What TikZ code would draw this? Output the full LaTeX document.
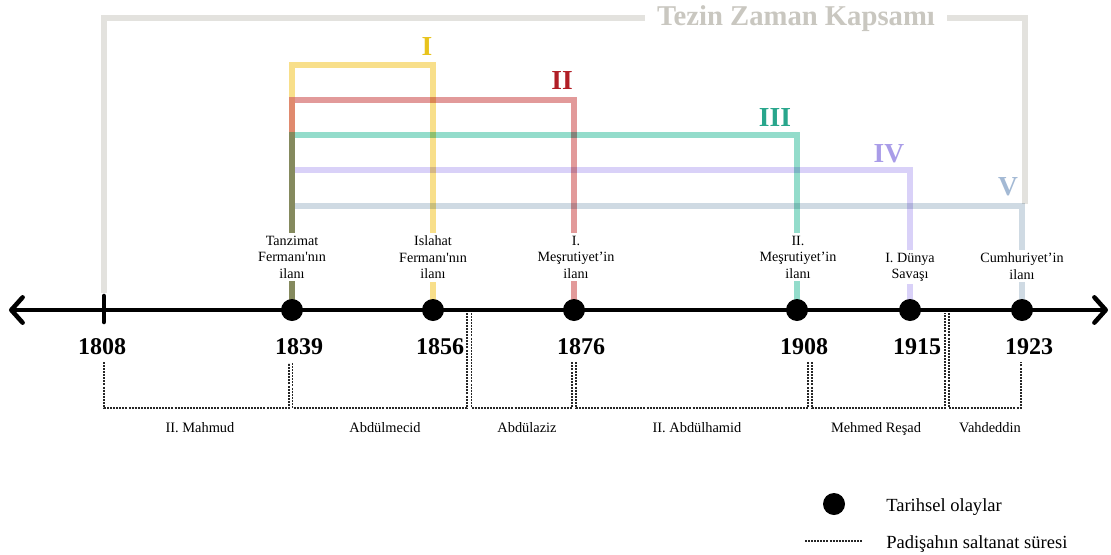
\documentclass[tikz,border=0pt]{standalone}
\usepackage{fontspec}
\setmainfont{Liberation Serif}
\usetikzlibrary{arrows.meta}
\definecolor{framegray}{HTML}{E3E2DE}
\definecolor{titlegray}{HTML}{C9C7C0}
\definecolor{yellowbar}{HTML}{F8DF8A}
\definecolor{redbar}{HTML}{E29A9A}
\definecolor{tealbar}{HTML}{93DCCB}
\definecolor{lavbar}{HTML}{D9D1F8}
\definecolor{bluebar}{HTML}{CFDAE3}
\definecolor{olivebar}{HTML}{858A5E}
\definecolor{orangebar}{HTML}{E08A6E}
\definecolor{romyellow}{HTML}{E8C31C}
\definecolor{romred}{HTML}{B11E26}
\definecolor{romteal}{HTML}{28A68C}
\definecolor{romlav}{HTML}{A99CE8}
\definecolor{romblue}{HTML}{A3B9D4}
\begin{document}
\begin{tikzpicture}[x=0.75pt,y=-0.75pt,
  bar/.style={line width=4.1pt, line join=miter, line cap=butt},
  reign/.style={line width=0.95pt, dash pattern=on 1.5pt off 0.8pt, black!85},
  evt/.style={align=center, font=\fontsize{10.6}{12.4}\selectfont, fill=white, inner xsep=1pt, inner ysep=2pt, anchor=north},
  yr/.style={font=\fontsize{18}{20}\selectfont\bfseries, anchor=base, inner sep=0pt},
  sul/.style={font=\fontsize{10.8}{13}\selectfont, anchor=base, inner sep=0pt},
  roman/.style={font=\fontsize{20.6}{22}\selectfont\bfseries, anchor=base, inner sep=0pt},
  evdot/.style={circle, fill=black, minimum size=16.5pt, inner sep=0pt},
  legtext/.style={font=\fontsize{13.9}{16}\selectfont, anchor=base west, inner sep=0pt}
]
\useasboundingbox (0,0) rectangle (1111,554);

% event dots (positions)
\coordinate (t1808) at (104,310);
\coordinate (p1839) at (292,310);
\coordinate (p1856) at (433,310);
\coordinate (p1876) at (574,310);
\coordinate (p1908) at (797,310);
\coordinate (p1915) at (910,310);
\coordinate (p1923) at (1022,310);

% thesis time frame
\draw[bar, framegray] (104,293) -- (104,18) -- (1025,18) -- (1025,204);
\node[font=\fontsize{21.5}{24}\selectfont\bfseries, text=titlegray, fill=white, inner xsep=9pt, inner ysep=1pt, anchor=base] (title) at (796,25) {Tezin Zaman Kapsamı};

% period brackets
\begin{scope}[blend mode=multiply]
\draw[bar, bluebar] (292,300) -- (292,206) -- (1022,206) -- (p1923);
\draw[bar, lavbar] (292,300) -- (292,170) -- (910,170) -- (p1915);
\draw[bar, tealbar] (292,300) -- (292,135) -- (797,135) -- (p1908);
\draw[bar, redbar] (292,300) -- (292,100) -- (574,100) -- (p1876);
\draw[bar, yellowbar] (292,300) -- (292,65) -- (433,65) -- (p1856);
\end{scope}
\draw[bar, orangebar] (292,97.3) -- (292,132.3);
\draw[bar, olivebar] (292,132.3) -- (p1839);

\node[roman, text=romyellow] (rI) at (427,55) {I};
\node[roman, text=romred] (rII) at (562,89) {II};
\node[roman, text=romteal] (rIII) at (775,126) {III};
\node[roman, text=romlav] (rIV) at (889,162) {IV};
\node[roman, text=romblue] (rV) at (1008,195) {V};

% event labels
\node[evt] (e1839) at (292,233) {Tanzimat\\Fermanı\textquotesingle nın\\ilanı};
\node[evt] (e1856) at (433,233) {Islahat\\Fermanı\textquotesingle nın\\ilanı};
\node[evt] (e1876) at (576,233) {I.\\Meşrutiyet’in\\ilanı};
\node[evt] (e1908) at (798,233) {II.\\Meşrutiyet’in\\ilanı};
\node[evt] (e1915) at (910,250) {I. Dünya\\Savaşı};
\node[evt] (e1923) at (1022,250) {Cumhuriyet’in\\ilanı};

% timeline
\coordinate (tl) at (9,310);
\coordinate (tr) at (1108,310);
\draw[line width=3.4pt, {Straight Barb[length=8.5pt,width=19pt,line cap=round,line join=round]}-{Straight Barb[length=8.5pt,width=19pt,line cap=round,line join=round]}] (tl) -- (tr);
\draw[line width=3.4pt, line cap=round] (104,296) -- (104,322);
\node[evdot] (d1839) at (p1839) {};
\node[evdot] (d1856) at (p1856) {};
\node[evdot] (d1876) at (p1876) {};
\node[evdot] (d1908) at (p1908) {};
\node[evdot] (d1915) at (p1915) {};
\node[evdot] (d1923) at (p1923) {};

% years
\node[yr] (y1808) at (102,354) {1808};
\node[yr] (y1839) at (299,354) {1839};
\node[yr] (y1856) at (440,354) {1856};
\node[yr] (y1876) at (581,354) {1876};
\node[yr] (y1908) at (804,354) {1908};
\node[yr] (y1915) at (917,354) {1915};
\node[yr] (y1923) at (1029,354) {1923};

% reigns
\draw[reign] (104,362) -- (104,408) -- (289,408) -- (289,363);
\draw[reign] (292.5,363) -- (292.5,408) -- (467,408) -- (467,313);
\draw[reign] (471.5,313) -- (471.5,408) -- (572,408) -- (572,362);
\draw[reign] (576,362) -- (576,408) -- (808,408) -- (808,362);
\draw[reign] (812,362) -- (812,408) -- (945,408) -- (945,313);
\draw[reign] (949,313) -- (949,408) -- (1021,408) -- (1021,362);

\node[sul] (s1) at (200,432) {II. Mahmud};
\node[sul] (s2) at (385,432) {Abdülmecid};
\node[sul] (s3) at (527,432) {Abdülaziz};
\node[sul] (s4) at (697,432) {II. Abdülhamid};
\node[sul] (s5) at (876,432) {Mehmed Reşad};
\node[sul] (s6) at (990,432) {Vahdeddin};

% legend
\node[evdot] (ldot) at (834,504) {};
\node[legtext] (l1) at (886,511) {Tarihsel olaylar};
\coordinate (lla) at (805,541);
\coordinate (llb) at (862,541);
\draw[reign] (lla) -- (llb);
\node[legtext] (l2) at (886,548) {Padişahın saltanat süresi};
\end{tikzpicture}
\end{document}
